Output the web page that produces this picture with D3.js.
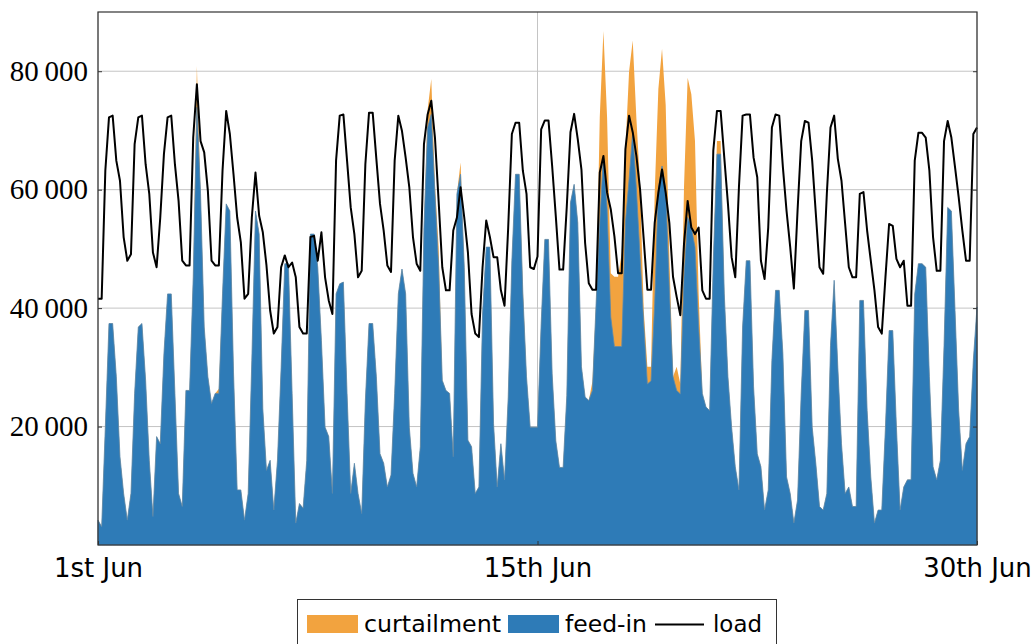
<!DOCTYPE html>
<html>
<head>
<meta charset="utf-8">
<script src="https://cdn.jsdelivr.net/npm/d3@7"></script>
<style>
  body { margin: 0; background: #fff; }
  .tick text { fill: #000; }
</style>
</head>
<body>
<div id="chart"></div>
<script>
// ========================================
// Data: one value every 3 hours (8 per row = 1 day), last value closes the month
// ========================================
const load = [
  41600, 41600, 63200, 72200, 72500, 64900, 61500, 52000,
  48000, 49100, 67700, 72200, 72500, 64300, 59300, 49400,
  46900, 55300, 66000, 72200, 72500, 64300, 58100, 48000,
  47200, 47200, 68800, 77800, 68200, 66300, 59800, 48000,
  47200, 47200, 63200, 73300, 69400, 62600, 55300, 51100,
  41600, 42400, 55300, 62900, 55600, 52800, 47200, 39600,
  35700, 36800, 46900, 48900, 46900, 47700, 45200, 36800,
  35700, 35700, 52000, 52200, 48000, 52800, 45200, 41300,
  39000, 64900, 72500, 72700, 64900, 57000, 52500, 45200,
  46300, 64300, 73000, 73000, 65200, 57600, 53100, 47200,
  46100, 64900, 72500, 69900, 65400, 60400, 52000, 47500,
  46300, 67700, 72700, 75000, 68800, 58100, 46900, 43000,
  43000, 53100, 55300, 60400, 55300, 49400, 39000, 35700,
  35100, 46900, 54800, 52000, 48600, 48600, 43000, 40400,
  53600, 69400, 71300, 71300, 63200, 59300, 46900, 46600,
  48700, 70200, 71700, 71700, 64000, 55500, 46500, 46500,
  57200, 69700, 72800, 68500, 63400, 51000, 44200, 43100,
  43100, 62900, 65700, 59500, 56700, 52100, 45900, 45900,
  66800, 72500, 69700, 65700, 60100, 51600, 43100, 43100,
  54400, 59500, 63400, 59500, 54400, 45300, 41900, 38800,
  50800, 58100, 53600, 52500, 53600, 43000, 41600, 41600,
  66600, 73300, 73300, 65400, 57600, 48600, 45200, 60400,
  72500, 72700, 72700, 65400, 62100, 48000, 44900, 53600,
  70500, 72700, 72500, 63800, 56400, 50300, 43300, 56400,
  68200, 71600, 71300, 64900, 55900, 46900, 45800, 59300,
  70500, 72500, 65200, 61500, 54200, 46900, 45200, 45200,
  59300, 59600, 53100, 48000, 43000, 36800, 35700, 45200,
  54200, 53900, 48300, 46900, 48000, 40400, 40400, 64900,
  69600, 69600, 68800, 63200, 52000, 46300, 46300, 68200,
  71600, 68800, 63800, 58700, 53100, 48000, 48000, 69400,
  70500
];

const feedIn = [
  4200, 3100, 19900, 37400, 37400, 28400, 14900, 8700,
  4200, 8700, 25600, 36800, 37400, 27800, 14300, 4800,
  18300, 17100, 32300, 42400, 42400, 25600, 8700, 6500,
  26100, 26100, 45200, 73900, 59300, 36800, 28400, 23900,
  25600, 25600, 42400, 57600, 56400, 29200, 9300, 9300,
  4200, 8700, 31200, 56400, 52500, 23000, 12600, 14300,
  5900, 14300, 30000, 47500, 47500, 25600, 3700, 7000,
  6200, 14300, 52500, 52500, 46900, 34500, 19900, 18300,
  8700, 42400, 44100, 44400, 25600, 8700, 13800, 8700,
  5300, 24400, 37400, 37400, 28400, 15400, 13800, 9800,
  11800, 25600, 42400, 46600, 42400, 19900, 12100, 9800,
  16600, 53600, 70500, 72700, 59300, 46900, 27800, 26100,
  25600, 14900, 59300, 62600, 46900, 17700, 16600, 8700,
  9800, 39000, 50300, 50300, 20500, 9800, 17100, 11000,
  24900, 48000, 62600, 62600, 42400, 28400, 19900, 19900,
  19900, 37400, 51600, 51600, 28900, 17600, 13100, 13100,
  25200, 57800, 60900, 54400, 30100, 25000, 24400, 26100,
  40800, 54400, 65700, 56800, 38500, 33500, 33500, 33500,
  54400, 61700, 69700, 60100, 48700, 37400, 27200, 27700,
  40800, 60100, 64000, 60100, 43100, 28400, 26100, 25500,
  45200, 55300, 53600, 50300, 36800, 25600, 23300, 22700,
  48000, 66000, 66000, 42400, 28400, 19900, 13200, 9300,
  36800, 48000, 48000, 26700, 15400, 13200, 5900, 9300,
  31200, 43000, 43000, 32300, 11500, 8700, 3700, 7600,
  25600, 39600, 39600, 19900, 13700, 6500, 5900, 8700,
  33700, 44700, 30000, 17100, 8700, 9800, 6500, 6500,
  41300, 41300, 22700, 11500, 3700, 5900, 5900, 19900,
  36200, 36200, 19900, 5900, 9800, 11000, 11000, 42400,
  47500, 47500, 46900, 28400, 13200, 11000, 14300, 33700,
  57000, 56400, 39600, 22700, 12600, 17100, 18300, 31200,
  40200
];

// curtailed energy, stacked on top of the feed-in
const curtailment = [
  0, 0, 0, 0, 0, 0, 0, 0,
  0, 0, 0, 0, 0, 0, 0, 0,
  0, 0, 0, 0, 0, 0, 0, 0,
  0, 0, 0, 7000, 0, 0, 0, 0,
  0, 800, 0, 0, 0, 0, 0, 0,
  0, 0, 0, 0, 0, 0, 0, 0,
  0, 0, 0, 0, 0, 0, 0, 0,
  0, 0, 0, 0, 0, 0, 0, 0,
  0, 0, 0, 0, 0, 0, 0, 0,
  0, 0, 0, 0, 0, 0, 0, 0,
  0, 0, 0, 0, 0, 0, 0, 0,
  0, 0, 3000, 6000, 1500, 3500, 0, 0,
  0, 0, 0, 2000, 0, 0, 0, 0,
  0, 0, 0, 0, 0, 0, 0, 0,
  0, 0, 0, 0, 1000, 0, 0, 0,
  0, 0, 0, 0, 0, 0, 0, 0,
  0, 0, 0, 0, 0, 0, 0, 1500,
  0, 17800, 21100, 15400, 7400, 11800, 11800, 15800,
  12400, 18200, 15500, 11900, 12300, 2300, 2900, 2400,
  18700, 16900, 19800, 14200, 5600, 0, 4000, 1700,
  15200, 23600, 22500, 17900, 5600, 0, 0, 0,
  0, 2200, 2200, 0, 0, 0, 0, 0,
  0, 0, 0, 0, 0, 0, 0, 0,
  0, 0, 0, 0, 0, 0, 0, 0,
  0, 0, 0, 0, 0, 0, 0, 0,
  0, 0, 0, 0, 0, 0, 0, 0,
  0, 0, 0, 0, 0, 0, 0, 0,
  0, 0, 0, 0, 0, 0, 0, 0,
  0, 0, 0, 0, 0, 0, 0, 0,
  0, 0, 0, 0, 0, 0, 0, 0,
  0
];

const stepHours = 3;
const xTicks = [0, 360, 720];
const xTickLabels = ['1st Jun', '15th Jun', '30th Jun'];
const yTicks = [20000, 40000, 60000, 80000];

const legendData = [
  {label: 'curtailment', color: '#f2a33f', type: 'rect'},
  {label: 'feed-in', color: '#2e7bb7', type: 'rect'},
  {label: 'load', color: '#000', type: 'line'}
];

// ========================================
// Dimensions
// ========================================
const width = 1031, height = 644;
const pLeft = 98, pRight = 977, pTop = 12, pBottom = 545;

const rows = load.map((d, i) => ({
  h: i * stepHours,
  load: d,
  feed: feedIn[i],
  total: feedIn[i] + curtailment[i]
}));

const svg = d3.select('#chart').append('svg')
  .attr('width', width)
  .attr('height', height);

const x = d3.scaleLinear().domain([0, 720]).range([pLeft, pRight]);
const y = d3.scaleLinear().domain([0, 90000]).range([pBottom, pTop]);

// grid
svg.append('g')
  .selectAll('line')
  .data(yTicks)
  .enter().append('line')
    .attr('x1', pLeft).attr('x2', pRight)
    .attr('y1', d => y(d)).attr('y2', d => y(d))
    .attr('stroke', '#c4c4c4').attr('stroke-width', 1);
svg.append('g')
  .selectAll('line')
  .data(xTicks)
  .enter().append('line')
    .attr('x1', d => x(d)).attr('x2', d => x(d))
    .attr('y1', pTop).attr('y2', pBottom)
    .attr('stroke', '#c4c4c4').attr('stroke-width', 1);

// curtailment (stacked) then feed-in
svg.append('path')
  .datum(rows)
  .attr('fill', '#f2a33f')
  .attr('d', d3.area().x(d => x(d.h)).y0(y(0)).y1(d => y(d.total)));

svg.append('path')
  .datum(rows)
  .attr('fill', '#2e7bb7')
  .attr('stroke', '#5b89ad')
  .attr('stroke-width', 0.8)
  .attr('d', d3.area().x(d => x(d.h)).y0(y(0)).y1(d => y(d.feed)));

// load line
svg.append('path')
  .datum(rows)
  .attr('fill', 'none')
  .attr('stroke', '#000')
  .attr('stroke-width', 2)
  .attr('stroke-linejoin', 'round')
  .attr('d', d3.line().x(d => x(d.h)).y(d => y(d.load)));

// frame
svg.append('rect')
  .attr('x', pLeft).attr('y', pTop)
  .attr('width', pRight - pLeft).attr('height', pBottom - pTop)
  .attr('fill', 'none').attr('stroke', '#333').attr('stroke-width', 1.2);

// axes
const fmt = d3.formatLocale({decimal: '.', thousands: '\u2009', grouping: [3], currency: ['', '']}).format(',');

const yAxis = svg.append('g')
  .attr('transform', `translate(${pLeft},0)`)
  .call(d3.axisLeft(y).tickValues(yTicks).tickFormat(fmt).tickSize(-4).tickPadding(10));
yAxis.select('.domain').remove();
yAxis.selectAll('.tick line').attr('stroke', '#333');
yAxis.selectAll('text')
  .style('font-family', '"Liberation Serif", "DejaVu Serif", serif')
  .style('font-size', '29px');

const yAxisR = svg.append('g')
  .attr('transform', `translate(${pRight},0)`)
  .call(d3.axisRight(y).tickValues(yTicks).tickFormat('').tickSize(-4));
yAxisR.select('.domain').remove();
yAxisR.selectAll('.tick line').attr('stroke', '#333');

const xAxis = svg.append('g')
  .attr('transform', `translate(0,${pBottom})`)
  .call(d3.axisBottom(x).tickValues(xTicks).tickFormat((d, i) => xTickLabels[i]).tickSize(-4).tickPadding(14));
xAxis.select('.domain').remove();
xAxis.selectAll('.tick line').attr('stroke', '#333');
xAxis.selectAll('text')
  .style('font-family', '"DejaVu Sans", sans-serif')
  .style('font-size', '26px');

// legend
const lg = svg.append('g');
lg.append('rect')
  .attr('x', 297.5).attr('y', 599.5)
  .attr('width', 479).attr('height', 60)
  .attr('fill', '#fff').attr('stroke', '#333').attr('stroke-width', 1);

const legendX = [307, 508, 655];
const textX = [364, 565, 713];
const textW = [137, 82, 49];
legendData.forEach((d, i) => {
  if (d.type === 'rect') {
    lg.append('rect')
      .attr('x', legendX[i]).attr('y', 615)
      .attr('width', 51).attr('height', 18)
      .attr('fill', d.color);
  } else {
    lg.append('line')
      .attr('x1', legendX[i]).attr('x2', legendX[i] + 49)
      .attr('y1', 624.5).attr('y2', 624.5)
      .attr('stroke', d.color).attr('stroke-width', 2);
  }
  lg.append('text')
    .attr('x', textX[i]).attr('y', 632)
    .attr('textLength', textW[i])
    .attr('lengthAdjust', 'spacingAndGlyphs')
    .style('font-family', '"DejaVu Sans", sans-serif')
    .style('font-size', '23px')
    .text(d.label);
});
</script>
</body>
</html>
